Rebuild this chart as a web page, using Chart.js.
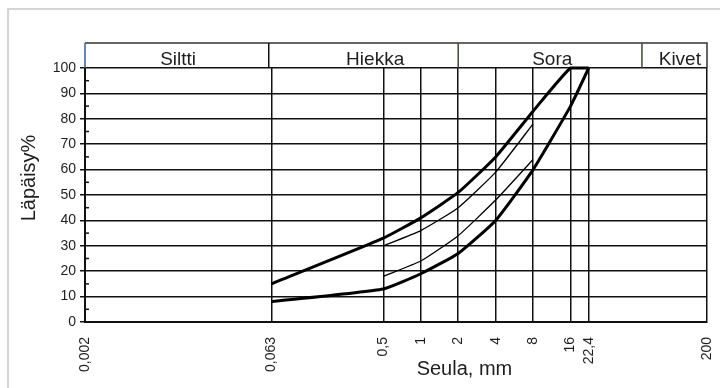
<!DOCTYPE html>
<html>
<head>
<meta charset="utf-8">
<script src="https://cdn.jsdelivr.net/npm/chart.js@4.4.1/dist/chart.umd.min.js"></script>
<style>
  html, body { margin: 0; padding: 0; background: #fff; }
</style>
</head>
<body>
<canvas id="chart" width="720" height="388"></canvas>
<script>
// Seula (mm) and läpäisy-%
const sieves = [0.063, 0.5, 1, 2, 4, 8, 16, 22.4];
const upperLimit = [15, 33, 41, 51, 65, 83, 100, 100];
const lowerLimit = [8, 13, 19, 27, 40, 60, 85, 100];

const innerSieves = [0.5, 1, 2, 4, 8];
const upperInner = [30, 36, 45, 59, 78];
const lowerInner = [18, 24, 34, 48, 64];

const xTicks = [0.002, 0.063, 0.5, 1, 2, 4, 8, 16, 22.4, 200];
const xTickLabels = ['0,002', '0,063', '0,5', '1', '2', '4', '8', '16', '22,4', '200'];
const yMinorTicks = [5, 15, 25, 35, 45, 55, 65, 75, 85, 95];

// soil classes in the band above the plot
const classNames = ['Siltti', 'Hiekka', 'Sora', 'Kivet'];
const classBounds = [0.002, 0.06, 2, 60, 200];
const classLabelAt = [0.0112, 0.43, 11.4, 121];

const FONT = "'Liberation Sans', Arial, sans-serif";
const INK = '#1e1e1e';

function toPoints(xs, ys) {
    return xs.map((x, i) => ({ x: x, y: ys[i] }));
}

function curve(xs, ys, width) {
    return {
        data: toPoints(xs, ys),
        borderColor: '#000',
        borderWidth: width,
        pointRadius: 0,
        tension: 0.15,
        fill: false,
        clip: 6
    };
}

const decorations = {
    id: 'decorations',
    beforeDraw(chart) {
        const ctx = chart.ctx;
        ctx.save();
        ctx.strokeStyle = '#c8c8c8';
        ctx.lineWidth = 1.5;
        ctx.strokeRect(8, 9, 800, 500);
        ctx.restore();
    },
    afterDraw(chart) {
        const ctx = chart.ctx;
        const area = chart.chartArea;
        const xs = chart.scales.x;
        const ys = chart.scales.y;
        const bandTop = 43;

        ctx.save();
        // class band
        const left = xs.getPixelForValue(classBounds[0]);
        const right = xs.getPixelForValue(classBounds[classBounds.length - 1]);
        ctx.lineWidth = 1.5;
        ctx.strokeStyle = '#333';
        ctx.beginPath();
        ctx.moveTo(left, bandTop);
        ctx.lineTo(right, bandTop);
        ctx.lineTo(right, area.top);
        ctx.stroke();
        ctx.strokeStyle = '#2f5f9f';
        ctx.beginPath();
        ctx.moveTo(left, bandTop);
        ctx.lineTo(left, area.top);
        ctx.stroke();
        for (let i = 1; i < classBounds.length - 1; i++) {
            const px = xs.getPixelForValue(classBounds[i]);
            ctx.strokeStyle = i === 1 ? '#111' : '#3d4a33';
            ctx.beginPath();
            ctx.moveTo(px, bandTop);
            ctx.lineTo(px, area.top);
            ctx.stroke();
        }
        ctx.fillStyle = INK;
        ctx.font = '19px ' + FONT;
        ctx.textAlign = 'center';
        ctx.textBaseline = 'alphabetic';
        classNames.forEach((name, i) => {
            ctx.fillText(name, xs.getPixelForValue(classLabelAt[i]), 65);
        });

        // minor ticks on the y axis
        ctx.strokeStyle = '#111';
        ctx.lineWidth = 1.5;
        yMinorTicks.forEach(v => {
            const py = ys.getPixelForValue(v);
            ctx.beginPath();
            ctx.moveTo(area.left, py);
            ctx.lineTo(area.left + 4, py);
            ctx.stroke();
        });

        // axis titles
        ctx.font = '20px ' + FONT;
        ctx.textAlign = 'center';
        ctx.textBaseline = 'middle';
        ctx.fillText('Seula, mm', area.left + 0.61 * (area.right - area.left), 369);
        ctx.translate(29, 178);
        ctx.rotate(-Math.PI / 2);
        ctx.fillText('Läpäisy%', 0, 0);
        ctx.restore();
    }
};

new Chart(document.getElementById('chart'), {
    type: 'line',
    data: {
        datasets: [
            curve(sieves, upperLimit, 3),
            curve(sieves, lowerLimit, 3),
            curve(innerSieves, upperInner, 1.3),
            curve(innerSieves, lowerInner, 1.3)
        ]
    },
    options: {
        responsive: false,
        devicePixelRatio: 1,
        animation: false,
        layout: { padding: { top: 68, right: 13, left: 0, bottom: 0 } },
        plugins: {
            legend: { display: false },
            tooltip: { enabled: false }
        },
        scales: {
            x: {
                type: 'logarithmic',
                min: 0.002,
                max: 200,
                afterBuildTicks: s => { s.ticks = xTicks.map(v => ({ value: v })); },
                afterFit: s => {
                    s.height = 66;
                    s.paddingLeft = 0;
                    s.paddingRight = 0;
                },
                ticks: {
                    autoSkip: false,
                    minRotation: 90,
                    maxRotation: 90,
                    padding: 15,
                    color: INK,
                    font: { family: FONT, size: 14 },
                    callback: (v, i) => xTickLabels[i]
                },
                grid: { color: '#111', lineWidth: 1.5, drawTicks: false },
                border: { color: '#111', width: 2 }
            },
            y: {
                min: 0,
                max: 100,
                afterFit: s => {
                    s.width = 85;
                    s.paddingTop = 0;
                    s.paddingBottom = 0;
                },
                ticks: {
                    stepSize: 10,
                    padding: 4,
                    color: INK,
                    font: { family: FONT, size: 14 }
                },
                grid: { color: '#111', lineWidth: 1.5, tickLength: 5, tickColor: '#111' },
                border: { color: '#111', width: 2 }
            }
        }
    },
    plugins: [decorations]
});
</script>
</body>
</html>
